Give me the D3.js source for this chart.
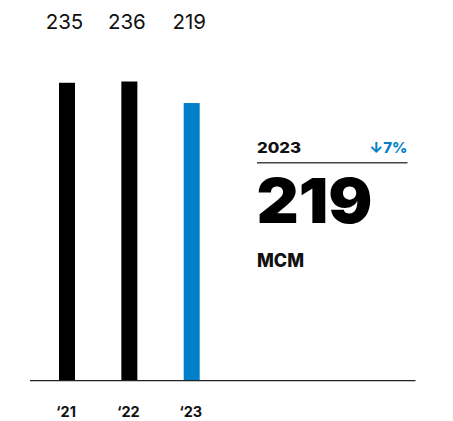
<!DOCTYPE html>
<html>
<head>
<meta charset="utf-8">
<script src="https://cdn.jsdelivr.net/npm/d3@7"></script>
<style>
  html, body { margin: 0; padding: 0; background: #fff; }
  svg { display: block; }
</style>
</head>
<body>
<script>
// Annual volume, million cubic metres
const years = ["\u201821", "\u201822", "\u201823"];
const values = [235, 236, 219];
const barColors = ["#000000", "#000000", "#0080C8"];

const headlineYear = "2023";
const headlineChange = "\u21937%";
const headlineValue = 219;
const headlineUnit = "MCM";

const W = 453, H = 421;
const baseline = 380.7;
const barWidth = 16;
const FONT = "Inter, Lato, 'Noto Sans', sans-serif";

const svg = d3.select("body").append("svg")
  .attr("width", W).attr("height", H);

// bar centres
const x = d3.scalePoint()
  .domain(years)
  .range([67, 191.7]);

const y = d3.scaleLinear()
  .domain([0, 236])
  .range([baseline, 81.5]);

// bars
svg.selectAll("rect.bar")
  .data(values)
  .join("rect")
  .attr("class", "bar")
  .attr("x", (d, i) => x(years[i]) - barWidth / 2)
  .attr("width", barWidth)
  .attr("y", d => y(d))
  .attr("height", d => baseline - y(d))
  .attr("fill", (d, i) => barColors[i]);

// value labels along the top
svg.selectAll("text.val")
  .data(values)
  .join("text")
  .attr("class", "val")
  .attr("x", (d, i) => x(years[i]) - 2.5)
  .attr("y", 28.5)
  .attr("text-anchor", "middle")
  .attr("font-family", FONT)
  .attr("font-weight", 400)
  .attr("font-size", 20.5)
  .attr("fill", "#111")
  .text(d => d);

// baseline axis
const axis = svg.append("g")
  .attr("transform", `translate(0,${baseline})`)
  .call(d3.axisBottom(x).tickSize(0));
axis.select(".domain").remove();
axis.append("line")
  .attr("x1", 30).attr("x2", 415.5)
  .attr("y1", 0).attr("y2", 0)
  .attr("stroke", "#222").attr("stroke-width", 1.3);
axis.selectAll(".tick text")
  .attr("font-family", FONT)
  .attr("font-weight", 700)
  .attr("font-size", 14.5)
  .attr("fill", "#111")
  .attr("dx", -1.5)
  .attr("dy", 0)
  .attr("y", 36.5);

// headline panel
const panel = svg.append("g");
panel.append("text")
  .attr("x", 257).attr("y", 153.3)
  .attr("font-family", FONT)
  .attr("font-weight", 800)
  .attr("font-size", 14.8)
  .attr("textLength", 44).attr("lengthAdjust", "spacingAndGlyphs")
  .attr("fill", "#111")
  .text(headlineYear);
panel.append("text")
  .attr("x", 369.3).attr("y", 153.3)
  .attr("font-family", FONT)
  .attr("font-weight", 800)
  .attr("font-size", 14.8)
  .attr("textLength", 38).attr("lengthAdjust", "spacingAndGlyphs")
  .attr("fill", "#0080C8")
  .text(headlineChange);
panel.append("line")
  .attr("x1", 257).attr("x2", 407.5)
  .attr("y1", 162.7).attr("y2", 162.7)
  .attr("stroke", "#444").attr("stroke-width", 1.5);
panel.append("text")
  .attr("x", 256.5).attr("y", 222.7)
  .attr("font-family", FONT)
  .attr("font-weight", 900)
  .attr("font-size", 62.5)
  .attr("textLength", 116).attr("lengthAdjust", "spacingAndGlyphs")
  .attr("fill", "#000")
  .text(headlineValue);
panel.append("text")
  .attr("x", 257).attr("y", 266.7)
  .attr("font-family", FONT)
  .attr("font-weight", 800)
  .attr("font-size", 18.3)
  .attr("textLength", 47).attr("lengthAdjust", "spacingAndGlyphs")
  .attr("fill", "#111")
  .text(headlineUnit);
</script>
</body>
</html>
